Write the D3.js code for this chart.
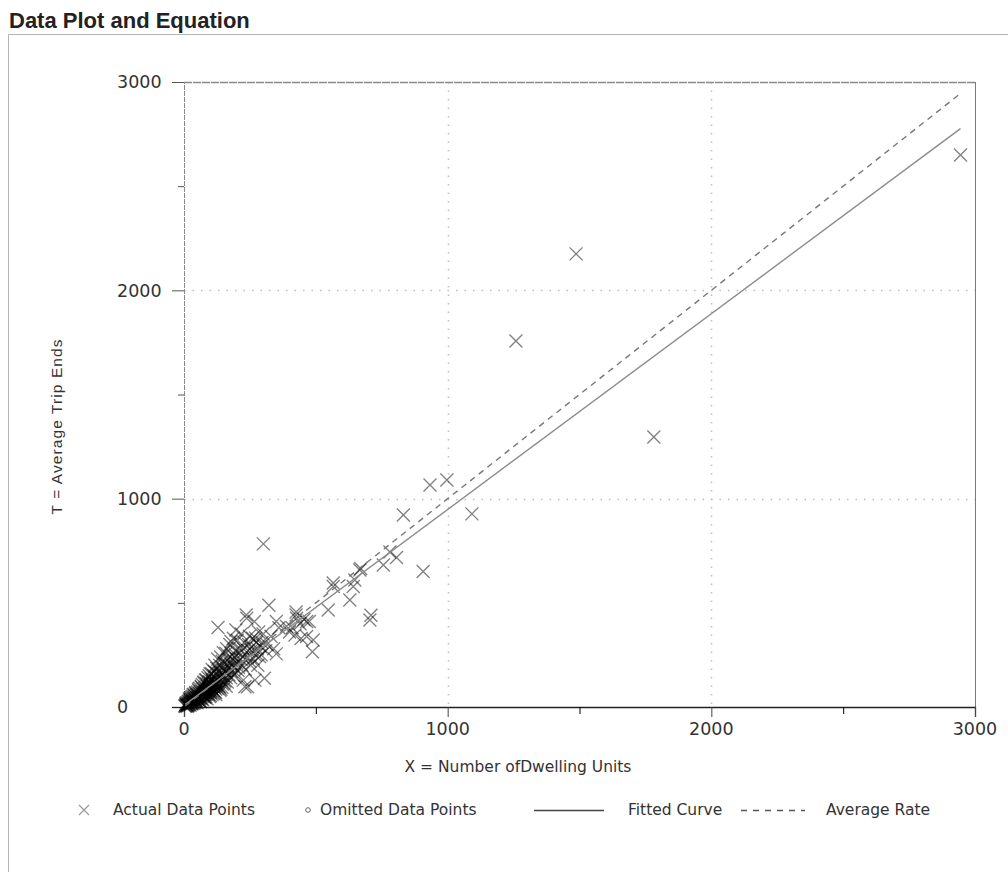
<!DOCTYPE html>
<html>
<head>
<meta charset="utf-8">
<script src="https://cdn.jsdelivr.net/npm/d3@7"></script>
<style>
  body { margin: 0; background: #fff; }
  svg { display: block; }
</style>
</head>
<body>
<div id="wrapper"></div>
<script>
// chart values
const titleText = "Data Plot and Equation"
const xLabel = "X = Number ofDwelling Units"
const yLabel = "T = Average Trip Ends"

const xMajorTicks = [0, 1000, 2000, 3000]
const xMinorTicks = [500, 1500, 2500]
const yMajorTicks = [0, 1000, 2000, 3000]
const yMinorTicks = [500, 1500, 2500]
const gridValues = [1000, 2000]

// [dwelling units, trip ends]
const actualPoints = [
  [5,8],[8,12],[10,6],[12,15],[14,10],[15,20],[18,14],[20,25],[22,18],[24,30],
  [25,22],[28,20],[30,35],[30,28],[32,24],[35,40],[36,30],[38,45],[40,36],[40,28],
  [42,50],[44,40],[45,33],[48,55],[50,45],[50,38],[52,60],[54,48],[55,42],[58,65],
  [60,52],[60,40],[62,70],[64,58],[65,48],[68,75],[70,62],[70,50],[72,85],[74,68],
  [75,55],[78,90],[80,72],[80,60],[82,95],[84,78],[85,62],[88,100],[90,82],[90,68],
  [92,110],[95,88],[96,72],[98,120],[100,95],[100,78],[102,105],[105,90],[108,130],[110,100],
  [110,80],[112,115],[115,95],[118,140],[120,105],[120,85],
  [20,40],[25,45],[35,60],[45,70],[55,85],[65,100],[75,115],[85,130],[95,150],[105,160],
  [115,170],[125,185],[135,200],[145,220],[30,15],[45,25],[60,30],[80,45],[100,55],[120,70],
  [140,85],[160,100],
  [3,5],[6,3],[7,15],[9,20],[11,9],[13,4],[16,28],[17,8],[19,12],[21,33],
  [23,10],[26,38],[27,15],[29,48],[31,19],[33,52],[34,26],[37,18],[39,58],[41,22],
  [43,65],[46,30],[47,62],[49,20],[51,72],[53,35],[56,78],[57,30],[59,90],[61,45],
  [63,25],[66,95],[67,40],[69,108],[71,35],[73,60],[76,120],[77,48],[79,70],[81,130],
  [83,50],[86,110],[87,40],[89,75],[91,140],[93,60],[94,120],[97,50],[99,160],[101,70],
  [103,135],[106,60],[107,180],[109,115],[111,65],[113,150],[116,75],[117,200],[119,125],[121,60],
  [123,165],[126,90],[128,230],[131,100],[133,170],[136,80],[139,240],[142,150],[144,95],[147,190],
  [149,260],[152,115],[154,210],[157,170],[162,280],[164,120],[167,230],[172,190],[174,300],[177,140],
  [182,250],[184,200],[187,330],[192,160],[194,270],[199,230],[202,320],[207,190],[212,280],[217,350],
  [222,240],[228,310],[233,180],[243,270],[248,340],[253,200],[258,290],[263,230],[272,330],[278,280],
  [283,360],[293,250],[296,310],[315,300],[330,340],[340,280],[360,380],
  [125,110],[130,120],[132,140],[135,95],[138,160],[140,130],[145,110],[150,150],[150,175],[155,125],
  [160,180],[160,140],[165,200],[170,155],[175,210],[178,314],[180,170],[185,230],[190,190],[190,150],
  [195,250],[197,370],[200,210],[205,175],[210,260],[215,230],[220,200],[225,129],[225,280],[231,97],
  [236,442],[238,426],[240,240],[241,97],[245,300],[250,220],[255,270],[260,330],[267,410],[269,129],
  [270,250],[275,310],[280,200],[286,242],[290,290],[300,350],[301,783],[305,138],[310,270],[322,488],
  [129,382],[159,258],[350,410],[350,255],
  [389,386],[421,346],[425,442],[427,426],[444,329],[465,410],[465,338],[475,410],[487,265],[490,322],
  [400,360],[410,380],[440,400],[455,420],[425,456],
  [547,466],[566,578],[566,595],[629,514],[642,578],[648,610],[667,658],[670,665],[705,418],[709,440],
  [756,682],[781,744],[806,718],[832,922],[907,650],[933,1066],[997,1090],[1092,927],
  [1259,1757],[1487,2175],[1782,1296],[2945,2650]
]

// fitted curve T = a*X + b and average rate T = r*X
const fitSlope = 0.94
const fitIntercept = 8
const averageRate = 1.0
const lineXs = [5, 2945]

const legendItems = ["Actual Data Points", "Omitted Data Points", "Fitted Curve", "Average Rate"]

const dimensions = {
  width: 1008,
  height: 872,
  margin: { top: 82, right: 33, bottom: 165, left: 184 },
}
dimensions.boundedWidth = dimensions.width - dimensions.margin.left - dimensions.margin.right
dimensions.boundedHeight = dimensions.height - dimensions.margin.top - dimensions.margin.bottom

const svg = d3.select("#wrapper")
  .append("svg")
    .attr("width", dimensions.width)
    .attr("height", dimensions.height)

// page title and frame
svg.append("text")
    .attr("x", 9)
    .attr("y", 28)
    .attr("font-family", "Liberation Sans, Arial, sans-serif")
    .attr("font-weight", "bold")
    .attr("font-size", 22)
    .attr("fill", "#222")
    .text(titleText)

svg.append("path")
    .attr("d", "M8.5,872V34.5H1008")
    .attr("fill", "none")
    .attr("stroke", "#b4b4b4")

const bounds = svg.append("g")
    .attr("transform", `translate(${dimensions.margin.left},${dimensions.margin.top})`)

const xScale = d3.scaleLinear()
  .domain([0, 3000])
  .range([0, dimensions.boundedWidth])

const yScale = d3.scaleLinear()
  .domain([0, 3000])
  .range([dimensions.boundedHeight, 0])

// dotted grid
bounds.selectAll(".vgrid")
  .data(gridValues)
  .join("line")
    .attr("x1", d => Math.round(xScale(d)) + 0.5)
    .attr("x2", d => Math.round(xScale(d)) + 0.5)
    .attr("y1", 0)
    .attr("y2", dimensions.boundedHeight)
    .attr("stroke", "#bdbdbd")
    .attr("stroke-width", 1.5)
    .attr("stroke-dasharray", "1.5,7")

bounds.selectAll(".hgrid")
  .data(gridValues)
  .join("line")
    .attr("x1", 0)
    .attr("x2", dimensions.boundedWidth)
    .attr("y1", d => Math.round(yScale(d)) + 0.5)
    .attr("y2", d => Math.round(yScale(d)) + 0.5)
    .attr("stroke", "#bdbdbd")
    .attr("stroke-width", 1.5)
    .attr("stroke-dasharray", "1.5,7")

// top and right border
bounds.append("line")
    .attr("x1", 0).attr("x2", dimensions.boundedWidth)
    .attr("y1", 0.5).attr("y2", 0.5)
    .attr("stroke", "#8a8a8a")
    .attr("stroke-width", 1.3)
    .attr("stroke-dasharray", "8,1")
bounds.append("line")
    .attr("x1", dimensions.boundedWidth + 0.5).attr("x2", dimensions.boundedWidth + 0.5)
    .attr("y1", 0).attr("y2", dimensions.boundedHeight)
    .attr("stroke", "#7a7a7a")

// y axis
const yAxisMajor = d3.axisLeft(yScale)
  .tickValues(yMajorTicks)
  .tickSize(12)
  .tickFormat("")
const yAxisMinor = d3.axisLeft(yScale)
  .tickValues(yMinorTicks)
  .tickSize(6)
  .tickFormat("")

const yAxisG = bounds.append("g").call(yAxisMajor)
bounds.append("g").call(yAxisMinor).select(".domain").remove()
yAxisG.select(".domain")
    .attr("stroke", "#8a8a8a")
    .attr("stroke-dasharray", "5,1")
bounds.selectAll(".tick line").attr("stroke", "#555")

bounds.selectAll(".ylab")
  .data(yMajorTicks)
  .join("text")
    .attr("x", 117 - dimensions.margin.left)
    .attr("y", d => yScale(d))
    .attr("dy", "0.36em")
    .attr("font-family", "DejaVu Sans, Verdana, sans-serif")
    .attr("font-size", 17.5)
    .attr("fill", "#333")
    .text(d => d)

// x axis
const xAxisMajor = d3.axisBottom(xScale)
  .tickValues(xMajorTicks)
  .tickSize(10)
  .tickFormat("")
const xAxisMinor = d3.axisBottom(xScale)
  .tickValues(xMinorTicks)
  .tickSize(7)
  .tickFormat("")

const xAxisG = bounds.append("g")
    .attr("transform", `translate(0,${dimensions.boundedHeight})`)
    .call(xAxisMajor)
bounds.append("g")
    .attr("transform", `translate(0,${dimensions.boundedHeight})`)
    .call(xAxisMinor)
    .select(".domain").remove()
xAxisG.select(".domain").attr("stroke", "#222").attr("stroke-width", 1.3)
xAxisG.selectAll(".tick line").attr("stroke", "#444")
bounds.append("line")
    .attr("x1", -12).attr("x2", 0)
    .attr("y1", dimensions.boundedHeight + 0.5).attr("y2", dimensions.boundedHeight + 0.5)
    .attr("stroke", "#222")
    .attr("stroke-width", 1.3)

bounds.selectAll(".xlab")
  .data(xMajorTicks)
  .join("text")
    .attr("x", d => xScale(d))
    .attr("y", dimensions.boundedHeight + 28)
    .attr("text-anchor", "middle")
    .attr("font-family", "DejaVu Sans, Verdana, sans-serif")
    .attr("font-size", 17.5)
    .attr("fill", "#333")
    .text(d => d)

// axis titles
svg.append("text")
    .attr("x", 518)
    .attr("y", 772)
    .attr("text-anchor", "middle")
    .attr("font-family", "DejaVu Sans, Verdana, sans-serif")
    .attr("font-size", 15.5)
    .attr("fill", "#333")
    .text(xLabel)

svg.append("text")
    .attr("transform", "translate(62,427) rotate(-90)")
    .attr("text-anchor", "middle")
    .attr("font-family", "Liberation Sans, Arial, sans-serif")
    .attr("font-size", 15.5)
    .attr("textLength", 175)
    .attr("lengthAdjust", "spacing")
    .attr("fill", "#333")
    .text(yLabel)

// data points
const crossPath = s => `M${-s},${-s}L${s},${s}M${-s},${s}L${s},${-s}`

bounds.selectAll(".pt")
  .data(actualPoints)
  .join("path")
    .attr("transform", d => `translate(${xScale(d[0])},${yScale(d[1])})`)
    .attr("d", crossPath(6.5))
    .attr("fill", "none")
    .attr("stroke", "#000")
    .attr("stroke-opacity", 0.5)
    .attr("stroke-width", 1.3)

// lines
const fitLine = d3.line()
  .x(d => xScale(d))
  .y(d => yScale(fitSlope * d + fitIntercept))
const rateLine = d3.line()
  .x(d => xScale(d))
  .y(d => yScale(averageRate * d))

bounds.append("path")
    .attr("d", fitLine(lineXs))
    .attr("fill", "none")
    .attr("stroke", "#8c8c8c")
    .attr("stroke-width", 1.4)

bounds.append("path")
    .attr("d", rateLine(lineXs))
    .attr("fill", "none")
    .attr("stroke", "#777")
    .attr("stroke-width", 1.4)
    .attr("stroke-dasharray", "6,5")

// legend
const legend = svg.append("g").attr("transform", "translate(0,810)")
const legendFont = "DejaVu Sans, Verdana, sans-serif"

legend.append("path")
    .attr("transform", "translate(84,0)")
    .attr("d", crossPath(5))
    .attr("fill", "none")
    .attr("stroke", "#999")
    .attr("stroke-width", 1.2)
legend.append("circle")
    .attr("cx", 308).attr("cy", 0).attr("r", 2.3)
    .attr("fill", "none")
    .attr("stroke", "#666")
legend.append("line")
    .attr("x1", 534).attr("x2", 604).attr("y1", 0.5).attr("y2", 0.5)
    .attr("stroke", "#444")
    .attr("stroke-width", 1.3)
legend.append("line")
    .attr("x1", 741).attr("x2", 805).attr("y1", 0.5).attr("y2", 0.5)
    .attr("stroke", "#555")
    .attr("stroke-width", 1.3)
    .attr("stroke-dasharray", "6,6")

const legendX = [113, 320, 628, 826]
legend.selectAll(".ltxt")
  .data(legendItems)
  .join("text")
    .attr("x", (d, i) => legendX[i])
    .attr("y", 0)
    .attr("dy", "0.35em")
    .attr("font-family", legendFont)
    .attr("font-size", 15.5)
    .attr("fill", "#333")
    .text(d => d)
</script>
</body>
</html>
